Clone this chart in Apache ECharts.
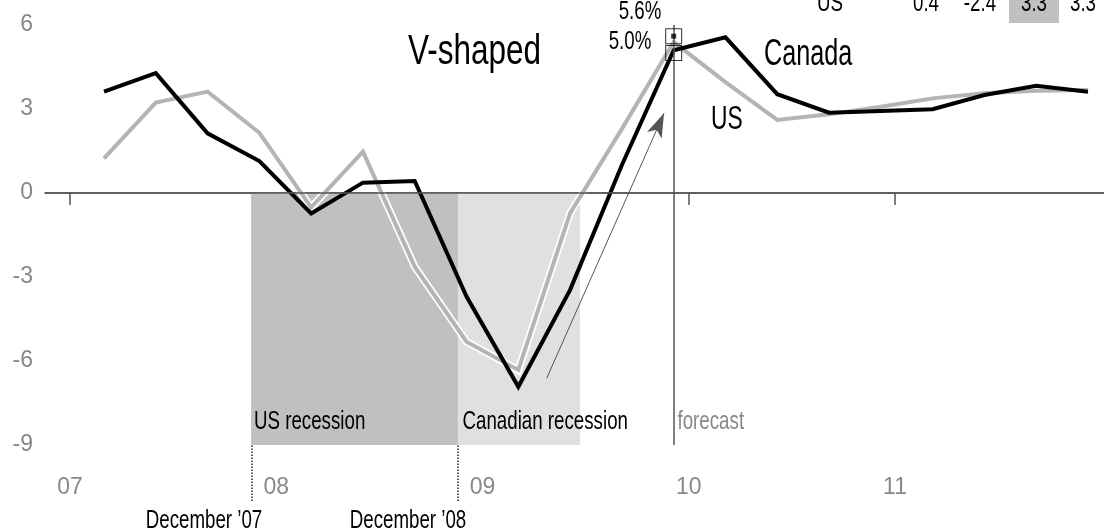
<!DOCTYPE html>
<html>
<head>
<meta charset="utf-8">
<script src="https://cdn.jsdelivr.net/npm/echarts@6/dist/echarts.min.js"></script>
<style>
  html, body { margin: 0; padding: 0; background: #fff; }
  #main { width: 1104px; height: 529px; }
</style>
</head>
<body>
<div id="main"></div>
<script>
// quarterly GDP growth, annualised %
var quarters = ['07Q1','07Q2','07Q3','07Q4','08Q1','08Q2','08Q3','08Q4','09Q1','09Q2',
                '09Q3','09Q4','10Q1','10Q2','10Q3','10Q4','11Q1','11Q2','11Q3','11Q4'];
var canada = [3.62, 4.28, 2.13, 1.14, -0.73, 0.37, 0.43, -3.70, -6.92, -3.46,
              1.0, 5.1, 5.56, 3.53, 2.87, 2.93, 2.99, 3.50, 3.83, 3.62];
var us = [1.24, 3.23, 3.62, 2.15, -0.51, 1.48, -2.63, -5.31, -6.32, -0.72,
          2.29, 5.39, 3.96, 2.61, 2.81, 3.08, 3.38, 3.56, 3.65, 3.68];
var yearTicks = [2007, 2008, 2009, 2010, 2011];
var usRecession = [2007.878, 2008.881];
var caRecession = [2008.881, 2009.473];
var forecastQuarter = '09Q4';
var peakMarks = [5.6, 5.0];
var arrowFrom = [2009.311, -6.62];
var arrowTo = [2009.88, 2.85];
var tableUS = ['US', '0.4', '-2.4', '3.3', '3.3'];

var FONT = "'Liberation Sans', Arial, sans-serif";
var XMIN = 2006.879, XMAX = 2012.013;
var chartDom = document.getElementById('main');
var myChart = echarts.init(chartDom);
var option;

// condensed-looking text: squeeze Liberation Sans horizontally
function label(txt, x, y, size, opts) {
    opts = opts || {};
    return {
        type: 'text', x: x, y: y, scaleX: opts.sx || 0.72, z: 20,
        style: {
            text: txt, fill: opts.color || '#000', fontSize: size, fontFamily: FONT,
            textAlign: opts.align || 'left', textVerticalAlign: 'middle'
        }
    };
}

option = {
    animation: false,
    textStyle: { fontFamily: FONT },
    grid: [
        { left: 45, right: 0, top: 25, bottom: 84 },   // axes
        { left: 104, right: 16, top: 25, bottom: 84 },  // data
        { left: 45, right: 0, top: 445, bottom: 28 }    // strip below the axis
    ],
    xAxis: [
        {
            type: 'value', gridIndex: 0, min: XMIN, max: XMAX,
            splitLine: { show: false },
            axisLine: { show: true, lineStyle: { color: '#555', width: 1.5 } },
            axisTick: { show: true, customValues: yearTicks, length: 12, lineStyle: { color: '#555', width: 1.5 } },
            axisLabel: {
                customValues: yearTicks, margin: 31, color: '#888', fontSize: 23, fontFamily: FONT,
                formatter: function (v) { return String(Math.round(v)).slice(2); }
            }
        },
        { type: 'category', gridIndex: 1, data: quarters, boundaryGap: false, show: false },
        { type: 'value', gridIndex: 2, min: XMIN, max: XMAX, show: false }
    ],
    yAxis: [
        {
            type: 'value', gridIndex: 0, min: -9, max: 6, interval: 3,
            splitLine: { show: false },
            axisLine: { show: false },
            axisTick: { show: false },
            axisLabel: { margin: 12, color: '#888', fontSize: 23, fontFamily: FONT }
        },
        { type: 'value', gridIndex: 1, min: -9, max: 6, show: false },
        { type: 'value', gridIndex: 2, min: 0, max: 1, show: false }
    ],
    series: [
        {
            // shading, zero line and arrow, in year units
            type: 'line', xAxisIndex: 0, yAxisIndex: 0, data: [], clip: false, silent: true,
            markArea: {
                silent: true,
                label: { show: false },
                data: [
                    [{ xAxis: usRecession[0], yAxis: 0, itemStyle: { color: '#c0c0c0' } },
                     { xAxis: usRecession[1], yAxis: -9 }],
                    [{ xAxis: caRecession[0], yAxis: 0, itemStyle: { color: '#e0e0e0' } },
                     { xAxis: caRecession[1], yAxis: -9 }]
                ]
            },
            markLine: {
                silent: true,
                symbol: 'none',
                label: { show: false },
                lineStyle: { type: 'solid', color: '#555', width: 1.5 },
                data: [
                    { yAxis: 0 },
                    [{ coord: arrowFrom, symbol: 'none', lineStyle: { color: '#555', width: 1 } },
                     { coord: arrowTo, symbol: 'arrow', symbolSize: [12, 24] }]
                ]
            }
        },
        {
            // dotted date markers under the axis
            type: 'line', xAxisIndex: 2, yAxisIndex: 2, data: [], silent: true,
            markLine: {
                silent: true, symbol: 'none', label: { show: false },
                lineStyle: { type: 'dotted', color: '#222', width: 1.5 },
                data: [{ xAxis: usRecession[0] }, { xAxis: usRecession[1] }]
            }
        },
        {
            name: 'US halo', type: 'line', xAxisIndex: 1, yAxisIndex: 1, data: us,
            symbol: 'none', silent: true,
            lineStyle: { color: '#fff', width: 7.5, join: 'miter' }
        },
        {
            name: 'US', type: 'line', xAxisIndex: 1, yAxisIndex: 1, data: us,
            symbol: 'none', silent: true,
            lineStyle: { color: '#b4b4b4', width: 4, join: 'miter' }
        },
        {
            name: 'Canada', type: 'line', xAxisIndex: 1, yAxisIndex: 1, data: canada,
            symbol: 'none', silent: true,
            lineStyle: { color: '#000', width: 4, join: 'miter' },
            markLine: {
                silent: true, symbol: 'none', label: { show: false },
                lineStyle: { type: 'solid', color: '#555', width: 1.5 },
                data: [{ xAxis: forecastQuarter }]
            }
        },
        {
            type: 'scatter', xAxisIndex: 1, yAxisIndex: 1, silent: true,
            symbol: 'rect', symbolSize: [16, 15],
            itemStyle: { color: 'rgba(0,0,0,0)', borderColor: '#000', borderWidth: 1 },
            data: peakMarks.map(function (v) { return [forecastQuarter, v]; }),
            z: 5
        },
        {
            type: 'scatter', xAxisIndex: 1, yAxisIndex: 1, silent: true,
            symbol: 'rect', symbolSize: 5,
            itemStyle: { color: '#000' },
            data: [[forecastQuarter, peakMarks[0]]],
            z: 6
        }
    ],
    graphic: [
        { type: 'rect', shape: { x: 1009, y: 0, width: 50, height: 23 }, style: { fill: '#c0c0c0' }, z: 10 },
        label(tableUS[0], 830, 3.5, 26, { align: 'center' }),
        label(tableUS[1], 926, 3.5, 26, { align: 'center' }),
        label(tableUS[2], 980, 3.5, 26, { align: 'center' }),
        label(tableUS[3], 1034, 3.5, 26, { align: 'center' }),
        label(tableUS[4], 1083, 3.5, 26, { align: 'center' }),
        label('5.6%', 640, 12, 26, { align: 'center' }),
        label('5.0%', 630, 42, 26, { align: 'center' }),
        label('V-shaped', 408, 52, 42, { sx: 0.75 }),
        label('Canada', 764, 55, 36, { sx: 0.7 }),
        label('US', 711, 120, 34, { sx: 0.67 }),
        label('US recession', 254, 422, 26),
        label('Canadian recession', 462.5, 422, 26),
        label('forecast', 677.5, 422, 26, { color: '#888' }),
        label('December \u201907', 204, 521, 26, { align: 'center' }),
        label('December \u201908', 408, 521, 26, { align: 'center' })
    ]
};

option && myChart.setOption(option);
</script>
</body>
</html>
